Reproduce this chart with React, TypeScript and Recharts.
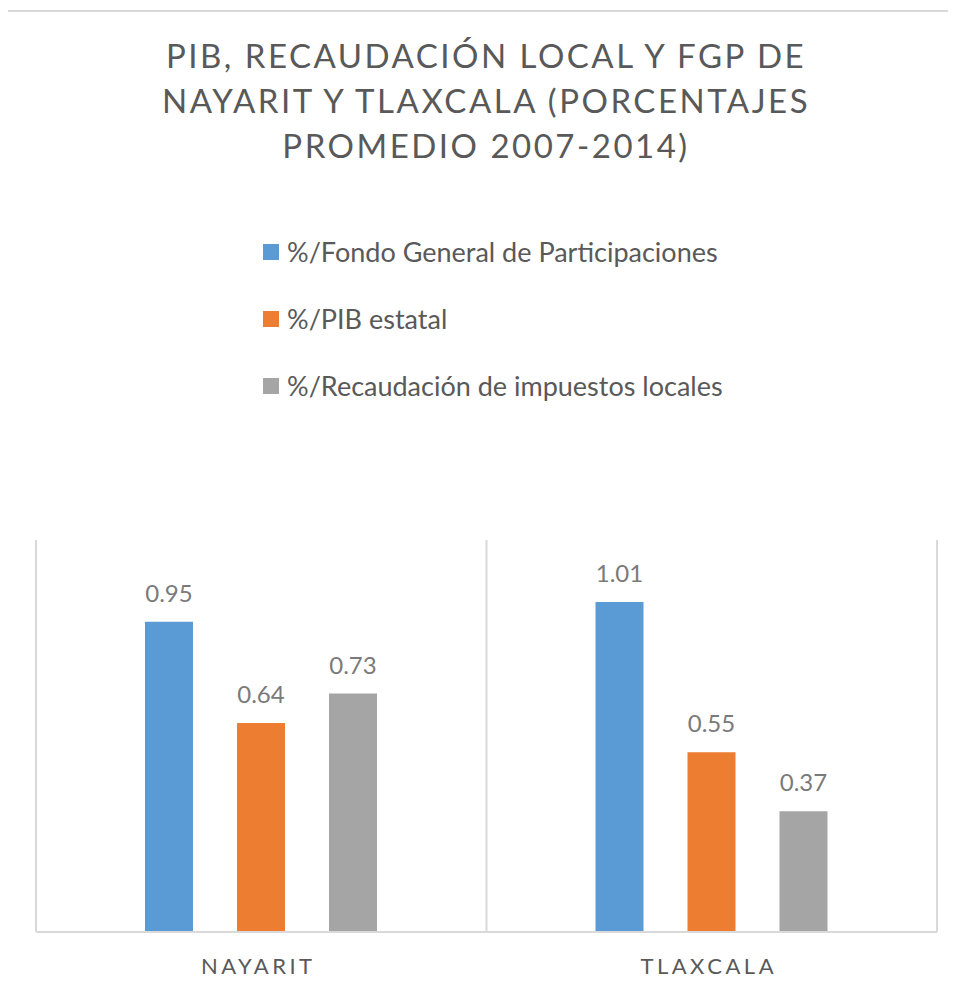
import React from "react";
import {
  BarChart,
  Bar,
  XAxis,
  YAxis,
  CartesianGrid,
  Legend,
  LabelList,
} from "recharts";

const estados = ["NAYARIT", "TLAXCALA"];
const fgp = [0.95, 1.01];
const pib = [0.64, 0.55];
const recaudacion = [0.73, 0.37];

const tituloLineas = [
  "PIB, RECAUDACIÓN LOCAL Y FGP DE",
  "NAYARIT Y TLAXCALA (PORCENTAJES",
  "PROMEDIO 2007-2014)",
];

const series = [
  { key: "fgp", nombre: "%/Fondo General de Participaciones", color: "#5b9bd5" },
  { key: "pib", nombre: "%/PIB estatal", color: "#ed7d31" },
  { key: "rec", nombre: "%/Recaudación de impuestos locales", color: "#a5a5a5" },
];

const data = estados.map((e, i) => ({
  estado: e,
  fgp: fgp[i],
  pib: pib[i],
  rec: recaudacion[i],
}));

const FONT = "Lato, 'Open Sans', sans-serif";

const LeyendaVertical = (props: any) => {
  const { payload } = props;
  return (
    <div style={{ fontFamily: FONT }}>
      {(payload || []).map((p: any) => (
        <div
          key={p.value}
          style={{
            display: "flex",
            alignItems: "center",
            height: 67,
            fontSize: 27,
            color: "#595959",
          }}
        >
          <span
            style={{
              display: "inline-block",
              width: 16,
              height: 16,
              background: p.color,
              marginRight: 8,
            }}
          />
          {p.value}
        </div>
      ))}
    </div>
  );
};

export default function App() {
  return (
    <div
      style={{
        position: "relative",
        width: 948,
        height: 986,
        fontFamily: FONT,
      }}
    >
      <div
        style={{
          position: "absolute",
          left: -2,
          top: 2,
          width: 960,
          height: 1000,
          borderTop: "2px solid #d9d9d9",
          borderLeft: "2px solid #d9d9d9",
        }}
      />
      <div
        style={{
          position: "absolute",
          left: 0,
          top: 25,
          width: 956,
          textAlign: "center",
          fontSize: 33,
          lineHeight: "45px",
          letterSpacing: 2.5,
          color: "#595959",
        }}
      >
        {tituloLineas.map((l) => (
          <div key={l}>{l}</div>
        ))}
      </div>
      <BarChart
        width={948}
        height={986}
        data={data}
        margin={{ top: 532, right: 19, bottom: 20, left: 28 }}
        barSize={48}
        barGap={44}
      >
        <CartesianGrid
          horizontal={false}
          stroke="#d9d9d9"
          strokeWidth={2}
          verticalCoordinatesGenerator={({ offset }: any) => [
            offset.left,
            offset.left + offset.width / 2,
            offset.left + offset.width,
          ]}
        />
        <XAxis
          dataKey="estado"
          height={42}
          axisLine={{ stroke: "#d9d9d9", strokeWidth: 2 }}
          tickLine={false}
          tick={{ fill: "#595959", fontSize: 22, letterSpacing: 3.5, dx: -3 }}
          tickMargin={20}
        />
        <YAxis hide domain={[0, 1.2]} />
        <Legend
          layout="vertical"
          verticalAlign="middle"
          align="center"
          content={<LeyendaVertical />}
          wrapperStyle={{ left: 255, top: 210, width: 600 }}
        />
        {series.map((s) => (
          <Bar
            key={s.key}
            dataKey={s.key}
            name={s.nombre}
            fill={s.color}
            isAnimationActive={false}
          >
            <LabelList
              dataKey={s.key}
              position="top"
              offset={20}
              fill="#7a7a7a"
              fontSize={24}
            />
          </Bar>
        ))}
      </BarChart>
    </div>
  );
}
